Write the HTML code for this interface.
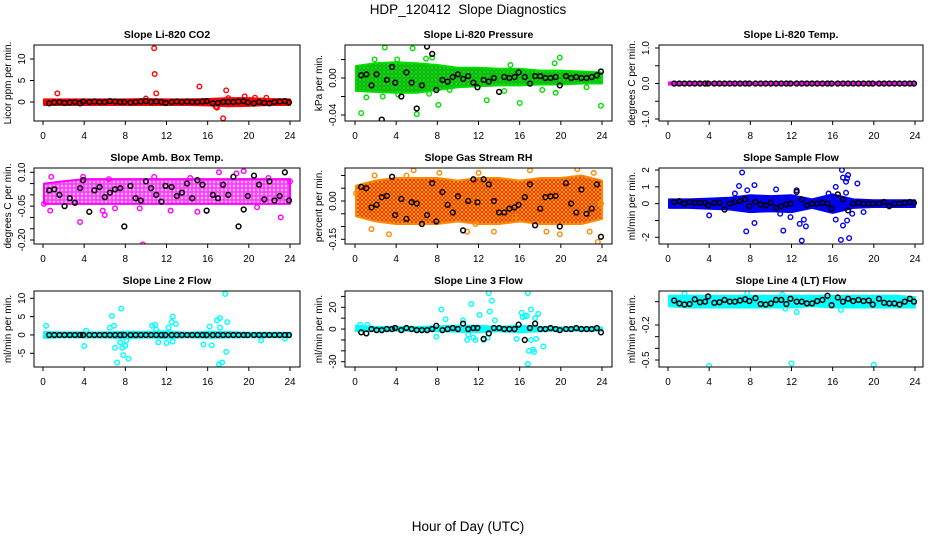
<!DOCTYPE html>
<html><head><meta charset="utf-8">
<style>
body{margin:0;background:#fff;}
svg{display:block;font-family:"Liberation Sans",sans-serif;}
</style></head>
<body>
<svg id="chart" width="936" height="540" viewBox="0 0 936 540" xmlns="http://www.w3.org/2000/svg">
<defs>
<pattern id="rhpat" width="4" height="4" patternUnits="userSpaceOnUse">
<rect width="4" height="4" fill="#ffe000"/><circle cx="2" cy="2" r="1.5" fill="none" stroke="#ff2000" stroke-width="1"/>
</pattern>
<pattern id="grpat" width="4" height="4" patternUnits="userSpaceOnUse">
<rect width="4" height="4" fill="#20e020"/><circle cx="2" cy="2" r="1.3" fill="none" stroke="#00a000" stroke-width="0.8"/>
</pattern>
<pattern id="mgpat" width="4" height="4" patternUnits="userSpaceOnUse">
<rect width="4" height="4" fill="#ff40ff"/><circle cx="2" cy="2" r="1.2" fill="#ffc0ff" stroke="none"/>
</pattern>
</defs>
<text x="468" y="14" font-size="13.5" text-anchor="middle" style="white-space:pre">HDP_120412  Slope Diagnostics</text>
<text x="468" y="531" font-size="13.5" text-anchor="middle">Hour of Day (UTC)</text>
</svg>
<script>
const xTicks = [0,4,8,12,16,20,24];
const blackHours = [0.6,1.1,1.6,2.1,2.6,3.1,3.6,3.9,4.5,5.0,5.5,6.0,6.5,7.0,7.5,7.9,8.5,9.0,9.5,10.0,10.5,11.0,11.5,11.9,12.5,13.0,13.5,14.0,14.5,15.0,15.5,15.9,16.5,17.0,17.5,18.0,18.5,19.0,19.5,19.9,20.5,21.0,21.5,22.0,22.5,23.0,23.5,23.9];
const bandHours = [0.1,2,4,6,8,10,12,14,16,18,20,22,24];

// CO2
const co2BandLo = [-0.7,-0.7,-0.7,-0.7,-0.7,-0.7,-0.7,-0.7,-0.8,-1.0,-0.9,-0.7,-0.7];
const co2BandHi = [0.6,0.6,0.6,0.6,0.6,0.7,0.6,0.6,0.7,0.9,0.9,0.7,0.6];
const co2OutHours = [1.4,10.8,10.85,11.0,15.2,17.5,17.8,16.8,19.6,20.6,21.7,10.0,18.0,16.9];
const co2OutVals = [2.0,12.5,6.5,2.0,3.6,-3.8,2.7,-1.1,1.3,1.0,1.0,0.8,0.9,-1.3];
const co2Black = [-0.3,-0.1,0,-0.2,-0.1,0,-0.3,0.1,0,0.1,0,0,0.2,0.1,0,0,-0.1,0,0.1,0.2,0,0.1,0,-0.2,0,0.1,0,0.1,0,0,0.1,0.2,-0.3,-0.2,0,0,0,0.1,0.2,-0.1,-0.3,0,-0.2,-0.3,0,0.1,0.2,-0.1];

// Pressure
const prBandLo = [-0.014,-0.015,-0.016,-0.016,-0.013,-0.010,-0.009,-0.008,-0.008,-0.007,-0.007,-0.006,-0.006];
const prBandHi = [0.013,0.016,0.017,0.016,0.014,0.011,0.011,0.010,0.010,0.008,0.008,0.007,0.006];
const prOutHours = [2.9,5.6,0.6,6.0,8.1,12.8,16.0,23.9,19.9,19.4,4.1,1.9,6.9,7.5,2.7,4.2,9.2,14.5,18.2,19.5,22.5,7.2,1.1,15.1];
const prOutVals = [0.033,0.032,-0.038,-0.039,-0.029,-0.024,-0.027,-0.030,0.022,0.016,0.020,0.020,0.021,0.022,-0.020,-0.018,-0.013,-0.014,-0.013,-0.016,-0.010,-0.017,-0.021,0.014];
const prBlack = [0.003,0.004,-0.008,0.004,-0.045,-0.002,0.012,-0.005,-0.020,0.006,-0.005,-0.033,-0.008,0.034,0.026,-0.013,-0.002,-0.004,0.001,0.004,-0.001,0.002,-0.005,-0.010,-0.002,-0.004,0,-0.015,0.001,0,0.001,0.006,0.001,-0.006,0.002,0.002,0,0,0.001,-0.008,0.002,0,0.001,0,0,0.001,0.003,0.007];

// Li-820 Temp
const tpBandLo = [-0.03,-0.03,-0.03,-0.03,-0.03,-0.03,-0.03,-0.03,-0.03,-0.03,-0.03,-0.03,-0.03];
const tpBandHi = [0.03,0.03,0.03,0.03,0.03,0.03,0.03,0.03,0.03,0.03,0.03,0.03,0.03];
const tpOutHours = [];
const tpOutVals = [];
const tpBlack = [0,0,0,0,0,0,0,0,0,0,0,0,0,0,0,0,0,0,0,0,0,0,0,0,0,0,0,0,0,0,0,0,0,0,0,0,0,0,0,0,0,0,0,0,0,0,0,0];

// Amb box temp
const abBandLo = [-0.04,-0.04,-0.04,-0.04,-0.04,-0.04,-0.04,-0.04,-0.04,-0.04,-0.04,-0.04,-0.04];
const abBandHi = [0.05,0.06,0.07,0.07,0.07,0.07,0.07,0.07,0.07,0.07,0.07,0.07,0.07];
const abOutHours = [3.6,9.7,0.1,0.7,5.8,6.0,7.0,12.4,15.0,17.1,19.5,18.8,23.1,9.4,20.8,0.8,3.9,6.4,10.8,14.3,21.9,24.0];
const abOutVals = [-0.12,-0.22,-0.04,-0.07,-0.07,-0.09,-0.06,-0.07,-0.075,0.10,0.105,0.095,-0.10,-0.06,-0.055,0.08,0.08,0.07,0.08,0.075,0.075,0.06];
const abBlack = [0.02,0.025,0.0,-0.05,-0.015,-0.035,0.03,0.065,-0.075,0.02,0.035,-0.01,0.01,0.025,0.03,-0.14,0.04,-0.015,-0.025,0.06,0.03,0.0,-0.03,0.04,0.035,-0.005,0.01,0.05,-0.015,0.065,0.045,-0.07,0.0,-0.015,0.045,0.0,0.08,-0.14,-0.065,-0.005,0.085,0.045,-0.02,0.06,-0.025,-0.005,0.10,-0.025];

// Gas stream RH
const rhBandLo = [-0.06,-0.08,-0.09,-0.09,-0.09,-0.08,-0.09,-0.09,-0.08,-0.09,-0.09,-0.09,-0.07];
const rhBandHi = [0.06,0.08,0.09,0.09,0.09,0.08,0.09,0.09,0.08,0.09,0.09,0.10,0.08];
const rhOutHours = [0.1,1.6,3.3,5.0,5.7,8.2,10.9,11.7,13.5,15.5,17.0,18.6,19.9,21.6,22.8,23.6,23.9,23.2,1.9,12.0];
const rhOutVals = [0.03,-0.11,-0.13,0.10,0.12,0.11,-0.12,-0.09,-0.12,-0.06,0.12,-0.12,-0.13,0.125,-0.12,-0.16,-0.01,0.11,0.10,0.11];
const rhBlack = [0.055,0.05,-0.025,-0.015,0.015,0.02,0.095,-0.055,0.008,-0.07,-0.005,-0.01,-0.09,-0.055,0.07,-0.08,0.035,-0.015,-0.045,0.018,-0.115,0.0,0.085,-0.005,0.085,0.065,0.0,-0.045,-0.045,-0.03,-0.025,-0.015,0.015,0.065,-0.095,-0.03,0.015,0.018,0.02,-0.10,0.07,-0.01,-0.045,0.045,-0.05,-0.03,0.065,-0.14];

// Sample flow
const sfBandLo = [-0.25,-0.25,-0.3,-0.35,-0.5,-0.45,-0.5,-0.25,-0.55,-0.25,-0.2,-0.2,-0.2];
const sfBandHi = [0.25,0.25,0.3,0.35,0.5,0.45,0.5,0.25,0.55,0.25,0.2,0.2,0.2];
const sfOutHours = [4.0,7.2,6.9,7.6,8.4,8.4,7.7,10.5,11.2,12.5,12.8,13.0,13.2,13.4,11.9,16.3,16.3,16.8,16.9,17.0,17.3,17.5,17.4,17.0,17.4,17.6,17.9,18.4,19.0,9.0,15.6,17.3,6.5,10.9];
const sfOutVals = [-0.7,1.85,1.05,-1.65,1.1,-1.15,0.8,0.85,-1.6,0.8,-1.2,-2.2,-0.95,-1.35,-0.8,1.0,-0.95,-2.15,2.0,1.55,1.3,1.7,1.5,-1.3,-1.0,-2.05,-0.6,1.2,-0.5,-0.3,0.6,0.65,0.6,-0.6];
const sfBlack = [0.1,0.15,0,0.1,0.05,0.05,0.05,-0.1,0.05,0.05,-0.35,0,0.1,0.15,0.25,-0.15,0.1,-0.05,-0.1,0.05,-0.25,-0.15,-0.05,0,0.7,0.25,-0.1,0,0,0.05,0,-0.3,0.55,0.25,-0.4,0,0.05,0,0,0,0,0.1,-0.15,0,0,0.05,0.1,0.05];

// Line 2 flow
const l2BandLo = [-0.8,-0.6,-0.7,-0.7,-0.9,-0.7,-0.9,-0.6,-0.8,-0.7,-0.6,-0.6,-0.6];
const l2BandHi = [0.8,0.7,0.7,0.7,0.9,0.8,1.0,0.6,0.9,0.8,0.6,0.6,0.6];
const l2OutHours = [0.3,4.0,4.2,6.5,6.7,6.9,7.0,7.2,7.5,7.6,7.8,7.7,8.0,8.1,8.3,10.6,10.9,11.2,11.0,12.2,12.5,12.6,12.9,12.0,12.6,15.6,16.2,16.4,16.9,17.2,17.4,17.1,17.7,17.9,17.8,17.2,21.2,23.5];
const l2OutVals = [2.5,-3.0,1.2,2.0,5.2,2.5,-3.5,-7.5,-2.0,7.2,-5.5,-3.5,-3.0,-1.5,-6.5,2.5,2.8,-2.0,1.5,2.0,3.5,5.0,3.0,-2.2,-1.8,-2.6,2.3,-2.8,4.0,4.6,-7.5,-8.0,11.2,3.5,-4.6,2.0,-1.5,-1.0];
const l2Black = [0,0,0,0,0,0,0,0,0,0,0,0,0,0,0,0,0,0,0,0,0,0,0,0,0,0,0,0,0,0,0,0,0,0,0,0,0,0,0,0,0,0,0,0,0,0,0,0];

// Line 3 flow
const l3BandLo = [-2,-1.5,-1.5,-1.5,-2,-2.5,-3,-2,-3,-2,-1.5,-1.5,-1.5];
const l3BandHi = [3,2,2,2,2.5,3,3,2,3,2,1.5,1.5,1.5];
const l3OutHours = [8.4,8.8,7.9,10.5,10.9,11.3,11.5,11.7,12.1,12.5,12.9,13.0,13.1,13.3,13.6,15.7,16.2,16.3,16.5,16.7,16.9,16.8,16.8,17.1,17.3,17.4,17.5,17.6,17.8,18.3,17.1,11.0,0.5,1.2];
const l3OutVals = [18,9,-7,8,-10,23,-8,-10,13,-10,-8,33,16,26,8,-9,15,11,12,12,-20,33,-32,18,-19,-21,10,-9,14,-16,-10,-5,4,4];
const l3Black = [-3,-4,0,-1,-1,0,0,1,-1,1,0,-1,-1,-1,0,3,-1,0,1,0,5,0,1,1,-9,-4,1,1,0,0,0,4,-10,1,5,0,0,1,0,-1,0,0,1,0,0,0,1,-3];

// Line 4 (LT) flow
const l4BandLo = [-0.04,-0.05,-0.05,-0.05,-0.05,-0.05,-0.05,-0.04,-0.05,-0.05,-0.05,-0.05,-0.05];
const l4BandHi = [0.05,0.05,0.05,0.05,0.05,0.05,0.05,0.05,0.05,0.05,0.05,0.05,0.04];
const l4OutHours = [4.0,12.0,20.0,12.5,1.6,7.7,11.1,16.8,11.4];
const l4OutVals = [-0.55,-0.53,-0.54,-0.09,0.07,0.075,0.06,-0.07,-0.06];
const l4Black = [0.01,-0.015,-0.025,-0.02,0.02,-0.005,0.0,0.045,-0.01,-0.005,0.015,0.0,0.0,0.01,0.02,0.005,0.03,-0.02,-0.025,-0.015,0.015,0.015,-0.02,0.025,0.0,0.0,-0.015,-0.015,0.005,0.015,0.05,-0.03,0.035,0.0,0.025,0.005,0.015,0.005,0.01,-0.025,0.025,-0.01,-0.015,-0.015,-0.025,0.0,0.025,0.0];

const NS = 'http://www.w3.org/2000/svg';
const svg = document.getElementById('chart');
function mk(tag, attrs, parent){ const e = document.createElementNS(NS, tag); for (const k in attrs) e.setAttribute(k, attrs[k]); (parent||svg).appendChild(e); return e; }

const cols = [{l:34,r:300,x0:43,x24:290,yl:11,tl:25},{l:345,r:612,x0:355,x24:602,yl:322,tl:336},{l:659,r:923,x0:668,x24:915,yl:635,tl:649}];
const rows = [{t:45,b:121},{t:168,b:244},{t:291,b:367}];

const panels = [
 {id:'co2',title:'Slope Li-820 CO2',ylab:'Licor ppm per min.',c:0,r:0,color:'#ff0000',fill:'#ff0000',sw:2,v1:0,p1:102,v2:10,p2:59,ticks:[0,5,10],labels:['0','5','10'],lo:co2BandLo,hi:co2BandHi,oh:co2OutHours,ov:co2OutVals,bk:co2Black},
 {id:'pressure',title:'Slope Li-820 Pressure',ylab:'kPa per min.',c:1,r:0,color:'#00dd00',fill:'url(#grpat)',sw:2,v1:0,p1:78,v2:-0.04,p2:115,ticks:[0.02,0,-0.02,-0.04],labels:['','0.00','','-0.04'],lo:prBandLo,hi:prBandHi,oh:prOutHours,ov:prOutVals,bk:prBlack},
 {id:'li820-temp',title:'Slope Li-820 Temp.',ylab:'degrees C per min.',c:2,r:0,color:'#ff00ff',fill:'#ff00ff',sw:2,v1:1,p1:48,v2:-1,p2:119,ticks:[1,0.5,0,-0.5,-1],labels:['1.0','','0.0','','-1.0'],lo:tpBandLo,hi:tpBandHi,oh:tpOutHours,ov:tpOutVals,bk:tpBlack},
 {id:'amb-box-temp',title:'Slope Amb. Box Temp.',ylab:'degrees C per min.',c:0,r:1,color:'#ff00ff',fill:'url(#mgpat)',sw:2,v1:0.10,p1:172.3,v2:-0.20,p2:240,ticks:[0.10,0.05,0,-0.05,-0.10,-0.15,-0.20],labels:['0.10','','','-0.05','','','-0.20'],lo:abBandLo,hi:abBandHi,oh:abOutHours,ov:abOutVals,bk:abBlack},
 {id:'gas-stream-rh',title:'Slope Gas Stream RH',ylab:'percent per min.',c:1,r:1,color:'#ff8800',fill:'url(#rhpat)',sw:2,v1:0,p1:201,v2:-0.15,p2:239.3,ticks:[0.10,0.05,0,-0.05,-0.10,-0.15],labels:['','','0.00','','','-0.15'],lo:rhBandLo,hi:rhBandHi,oh:rhOutHours,ov:rhOutVals,bk:rhBlack},
 {id:'sample-flow',title:'Slope Sample Flow',ylab:'ml/min per min.',c:2,r:1,color:'#0000ee',fill:'#0000ee',sw:2,v1:2,p1:170,v2:-2,p2:237.3,ticks:[2,1,0,-1,-2],labels:['2','1','0','','-2'],lo:sfBandLo,hi:sfBandHi,oh:sfOutHours,ov:sfOutVals,bk:sfBlack},
 {id:'line2-flow',title:'Slope Line 2 Flow',ylab:'ml/min per min.',c:0,r:2,color:'#00ffff',fill:'#00ffff',sw:2,v1:10,p1:298.3,v2:-5,p2:353.3,ticks:[10,5,0,-5],labels:['10','5','0','-5'],lo:l2BandLo,hi:l2BandHi,oh:l2OutHours,ov:l2OutVals,bk:l2Black},
 {id:'line3-flow',title:'Slope Line 3 Flow',ylab:'ml/min per min.',c:1,r:2,color:'#00ffff',fill:'#00ffff',sw:2,v1:20,p1:307.3,v2:-30,p2:361.7,ticks:[30,20,10,0,-10,-20,-30],labels:['','20','','0','','','-30'],lo:l3BandLo,hi:l3BandHi,oh:l3OutHours,ov:l3OutVals,bk:l3Black},
 {id:'line4-flow',title:'Slope Line 4 (LT) Flow',ylab:'ml/min per min.',c:2,r:2,color:'#00ffff',fill:'#00ffff',sw:2,v1:-0.2,p1:325,v2:-0.5,p2:360,ticks:[0,-0.2,-0.3,-0.4,-0.5],labels:['','-0.2','','','-0.5'],lo:l4BandLo,hi:l4BandHi,oh:l4OutHours,ov:l4OutVals,bk:l4Black}
];

panels.forEach(p => {
  const C = cols[p.c], R = rows[p.r];
  const xs = h => C.x0 + (C.x24 - C.x0) * h / 24;
  const ys = v => p.p1 + (v - p.v1) * (p.p2 - p.p1) / (p.v2 - p.v1);
  const g = mk('g', {});
  
  
  const clipId = 'clip-' + p.id;
  const cp = mk('clipPath', {id: clipId}, g);
  mk('rect', {x: C.l, y: R.t, width: C.r - C.l, height: R.b - R.t}, cp);
  const plot = mk('g', {'clip-path': 'url(#' + clipId + ')'}, g);
  
  
  let pts = [];
  for (let i = 0; i < bandHours.length; i++) pts.push(xs(bandHours[i]).toFixed(1) + ',' + ys(p.hi[i]).toFixed(1));
  for (let i = bandHours.length - 1; i >= 0; i--) pts.push(xs(bandHours[i]).toFixed(1) + ',' + ys(p.lo[i]).toFixed(1));
  const band = mk('polygon', {points: pts.join(' '), fill: p.fill, stroke: p.color, 'stroke-width': p.sw, 'stroke-linejoin': 'round'}, plot);
  
  
  for (let i = 0; i < Math.min(p.oh.length, p.ov.length); i++) {
    const c = mk('circle', {cx: xs(p.oh[i]), cy: ys(p.ov[i]), r: 2.3, fill: 'none', stroke: p.color, 'stroke-width': 1.4}, plot);
    
    
  }
  for (let i = 0; i < Math.min(blackHours.length, p.bk.length); i++) {
    const c = mk('circle', {cx: xs(blackHours[i]), cy: ys(p.bk[i]), r: 2.4, fill: 'none', stroke: '#000', 'stroke-width': 1.5}, plot);
    
    
  }
  const box = mk('rect', {x: C.l, y: R.t, width: C.r - C.l, height: R.b - R.t, fill: 'none', stroke: '#000', 'stroke-width': 1}, g);
  
  
  const t = mk('text', {x: (C.l + C.r) / 2, y: R.t - 7, 'font-size': 10.5, 'font-weight': 'bold', 'text-anchor': 'middle'}, g);
  t.textContent = p.title;
  
  
  const xa = mk('g', {}, g);
  
  
  xTicks.forEach(h => {
    mk('line', {x1: xs(h), x2: xs(h), y1: R.b, y2: R.b + 4, stroke: '#000'}, xa);
    const tl = mk('text', {x: xs(h), y: R.b + 18, 'font-size': 10, 'text-anchor': 'middle'}, xa);
    tl.textContent = String(h);
    
    
  });
  const ya = mk('g', {}, g);
  
  
  const tv = p.ticks.map(ys);
  mk('line', {x1: C.l, x2: C.l, y1: Math.min(...tv), y2: Math.max(...tv), stroke: '#000'}, ya);
  p.ticks.forEach((v, i) => {
    const y = ys(v);
    mk('line', {x1: C.l - 4, x2: C.l, y1: y, y2: y, stroke: '#000'}, ya);
    if (p.labels[i]) {
      const yl = mk('text', {x: C.tl, y: y, 'font-size': 10, 'text-anchor': 'middle', transform: 'rotate(-90 ' + C.tl + ' ' + y + ')'}, ya);
      yl.textContent = p.labels[i];
      
      
    }
  });
  const cy = (R.t + R.b) / 2;
  const yt = mk('text', {x: C.yl, y: cy, 'font-size': 10, 'text-anchor': 'middle', transform: 'rotate(-90 ' + C.yl + ' ' + cy + ')'}, g);
  yt.textContent = p.ylab;
  
  
});
</script>
</body></html>
